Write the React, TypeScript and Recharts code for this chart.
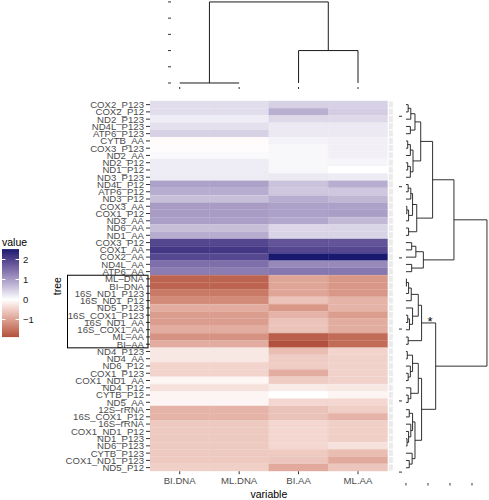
import React from 'react';
import { BarChart, Bar, XAxis, YAxis, Cell, ComposedChart, ReferenceLine, Scatter } from 'recharts';

const FONT = '"Liberation Sans", Arial, Helvetica, sans-serif';

// ---------------- data ----------------
const rowLabels = [
  'COX2_P123', 'COX2_P12', 'ND2_P123', 'ND4L_P123', 'ATP6_P123', 'CYTB_AA', 'COX3_P123', 'ND2_AA',
  'ND2_P12', 'ND1_P12', 'ND3_P123', 'ND4L_P12', 'ATP6_P12', 'ND3_P12', 'COX3_AA', 'COX1_P12',
  'ND3_AA', 'ND6_AA', 'ND1_AA', 'COX3_P12', 'COX1_AA', 'COX2_AA', 'ND4L_AA', 'ATP6_AA',
  'ML–DNA', 'BI–DNA', '16S_ND1_P123', '16S_ND1_P12', 'ND5_P123', '16S_COX1_P123', '16S_ND1_AA',
  '16S_COX1_AA', 'ML–AA', 'BI–AA', 'ND4_P123', 'ND4_AA', 'ND6_P12', 'COX1_P123', 'COX1_ND1_AA',
  'ND4_P12', 'CYTB_P12', 'ND5_AA', '12S–rRNA', '16S_COX1_P12', '16S–rRNA', 'COX1_ND1_P12',
  'ND1_P123', 'ND6_P123', 'CYTB_P123', 'COX1_ND1_P123', 'ND5_P12',
];

const colLabels = ['BI.DNA', 'ML.DNA', 'BI.AA', 'ML.AA'];

const valuesBIDNA = [
  0.33, 0.33, 0.19, 0.3, 0.45, -0.04, -0.03, 0.06, 0.19, 0.19, 0.2,
  0.95, 0.82, 0.64, 1.0, 1.0, 0.97, 0.64, 0.82, 1.96, 2.14, 1.95, 1.49, 1.34,
  -1.67, -1.67, -1.43, -1.25, -0.87, -1.04, -1.04, -0.87, -1.15, -0.87,
  -0.24, -0.24, -0.45, -0.45, -0.09, -0.31, -0.1, -0.1, -0.8, -0.8, -0.57, -0.57, -0.57, -0.57, -0.57, -0.57, -0.5,
];
const valuesMLDNA = [
  0.33, 0.33, 0.19, 0.3, 0.45, -0.04, -0.03, 0.06, 0.19, 0.19, 0.2,
  0.95, 0.82, 0.64, 1.0, 1.0, 0.97, 0.64, 0.82, 1.96, 2.14, 1.95, 1.49, 1.34,
  -1.67, -1.67, -1.43, -1.25, -0.87, -1.04, -1.04, -0.87, -1.15, -0.87,
  -0.24, -0.24, -0.45, -0.45, -0.09, -0.31, -0.1, -0.1, -0.8, -0.8, -0.57, -0.57, -0.57, -0.57, -0.57, -0.57, -0.5,
];
const valuesBIAA = [
  0.45, 0.8, 0.38, 0.22, 0.22, 0.12, 0.08, 0.08, 0.08, 0.08, 0.22,
  0.6, 0.55, 0.82, 0.95, 0.95, 0.88, 0.4, 0.42, 1.8, 1.96, 2.52, 1.2, 1.4,
  -0.94, -0.94, -0.94, -0.63, -1.11, -0.8, -0.63, -0.63, -1.72, -1.88,
  -0.7, -0.52, -0.52, -0.87, -0.52, -0.21, 0.0, -0.42, -0.64, -0.64, -0.42, -0.42, -0.42, -0.42, -0.56, -0.6, -0.9,
];
const valuesMLAA = [
  0.45, 0.5, 0.38, 0.22, 0.22, 0.15, 0.15, 0.15, 0.1, 0.0, 0.2,
  0.82, 0.55, 0.72, 0.95, 0.98, 0.7, 0.42, 0.42, 1.8, 1.96, 2.52, 1.2, 1.4,
  -1.11, -1.11, -1.11, -0.8, -0.8, -1.04, -0.87, -0.87, -1.58, -1.58,
  -0.45, -0.47, -0.47, -0.47, -0.47, -0.24, -0.1, -0.42, -0.5, -0.8, -0.5, -0.5, -0.5, -0.31, -0.7, -0.9, -0.6,
];

type TreeNode = number | [TreeNode, TreeNode, number];

// row dendrogram: [left, right, merge height]
const rowTree: TreeNode = [
  [
    [
      [
        [[[0, 1, 0.1], 2, 0.22], [3, 4, 0.2], 0.41],
        [[[5, 6, 0.08], 7, 0.2], [[8, 9, 0.08], 10, 0.2], 0.32],
        0.67,
      ],
      [
        [[[11, 12, 0.1], 13, 0.22], [[14, 15, 0.04], 16, 0.12], 0.3],
        [17, 18, 0.12],
        0.49,
      ],
      1.21,
    ],
    [[[19, 20, 0.26], 21, 0.45], [22, 23, 0.26], 0.79],
    2.18,
  ],
  [
    [
      [[[[24, 25, 0.02], 26, 0.12], 27, 0.24], [28, [[29, 30, 0.08], 31, 0.16], 0.3], 0.56],
      [32, 33, 0.1],
      0.71,
    ],
    [
      [[[34, 35, 0.06], [36, [37, 38, 0.1], 0.2], 0.3], [39, [40, 41, 0.1], 0.22], 0.56],
      [[[42, 43, 0.15], [44, [45, [46, 47, 0.05], 0.12], 0.22], 0.3], [48, [49, 50, 0.15], 0.28], 0.41],
      0.71,
    ],
    1.35,
  ],
  3.68,
];

// column dendrogram
const colTree: TreeNode = [[0, 1, 0], [2, 3, 2], 5];

const rowTreeTicks = [1.6, 11.3, 21.1, 30.9, 40.8, 50.6];
const rowHeightTicks = [0, 1, 2, 3];
const colHeightTicks = [0, 1, 2, 3, 4, 5];
const legendBreaks = [2, 1, 0, -1];

// ---------------- colour scale (Lab, like ggplot gradient2) ----------------
const lin = (c: number) => {
  const s = c / 255;
  return s <= 0.04045 ? s / 12.92 : Math.pow((s + 0.055) / 1.055, 2.4);
};
const unlin = (v: number) => {
  const s = v <= 0.0031308 ? 12.92 * v : 1.055 * Math.pow(v, 1 / 2.4) - 0.055;
  return Math.round(Math.min(1, Math.max(0, s)) * 255);
};
const Xn = 0.95047, Zn = 1.08883;
const fl = (t: number) => (t > 216 / 24389 ? Math.cbrt(t) : ((24389 / 27) * t + 16) / 116);
const finv = (t: number) => (t * t * t > 216 / 24389 ? t * t * t : (116 * t - 16) / (24389 / 27));
function toLab(rgb: number[]) {
  const R = lin(rgb[0]), G = lin(rgb[1]), B = lin(rgb[2]);
  const X = 0.4124564 * R + 0.3575761 * G + 0.1804375 * B;
  const Y = 0.2126729 * R + 0.7151522 * G + 0.072175 * B;
  const Z = 0.0193339 * R + 0.119192 * G + 0.9503041 * B;
  const fx = fl(X / Xn), fy = fl(Y), fz = fl(Z / Zn);
  return [116 * fy - 16, 500 * (fx - fy), 200 * (fy - fz)];
}
function fromLab(lab: number[]) {
  const fy = (lab[0] + 16) / 116;
  const fx = fy + lab[1] / 500;
  const fz = fy - lab[2] / 200;
  const X = Xn * finv(fx), Y = finv(fy), Z = Zn * finv(fz);
  const R = 3.2404542 * X - 1.5371385 * Y - 0.4985314 * Z;
  const G = -0.969266 * X + 1.8760108 * Y + 0.041556 * Z;
  const B = 0.0556434 * X - 0.2040259 * Y + 1.0572252 * Z;
  return '#' + [R, G, B].map((v) => unlin(v).toString(16).padStart(2, '0')).join('');
}
const LAB_MID = toLab([255, 255, 255]);
const LAB_LOW = toLab([139, 0, 0]); // darkred
const LAB_HIGH = toLab([25, 25, 112]); // midnightblue

const allValues = [...valuesBIDNA, ...valuesMLDNA, ...valuesBIAA, ...valuesMLAA];
const vMax = Math.max(...allValues);
const vMin = Math.min(...allValues);
const maxAbs = Math.max(Math.abs(vMax), Math.abs(vMin));

function colorFor(v: number) {
  const t = Math.min(1, Math.abs(v) / maxAbs);
  const end = v >= 0 ? LAB_HIGH : LAB_LOW;
  return fromLab(LAB_MID.map((m, k) => m + (end[k] - m) * t));
}

// ---------------- dendrogram layout ----------------
type Seg = { p1: number; h1: number; p2: number; h2: number };
function layoutTree(node: TreeNode, segs: Seg[], off: number): { pos: number; h: number } {
  if (typeof node === 'number') return { pos: node + off, h: 0 };
  const L = layoutTree(node[0], segs, off);
  const R = layoutTree(node[1], segs, off);
  const h = node[2];
  segs.push({ p1: L.pos, h1: h, p2: R.pos, h2: h });
  segs.push({ p1: L.pos, h1: L.h, p2: L.pos, h2: h });
  segs.push({ p1: R.pos, h1: R.h, p2: R.pos, h2: h });
  return { pos: (L.pos + R.pos) / 2, h };
}
const rowSegs: Seg[] = [];
layoutTree(rowTree, rowSegs, 0);
const colSegs: Seg[] = [];
layoutTree(colTree, colSegs, 0.5);

// starred clade: first child of the lower (red) cluster
const redCluster = (rowTree as any)[1];
const starClade = redCluster[0];
const starPos = layoutTree(starClade, [], 0).pos;
const starData = [{ h: (starClade[2] + redCluster[2]) / 2, r: starPos }];

// ---------------- layout constants ----------------
const PLOT_TOP = 101;
const ROW_H = 7.26;
const N = rowLabels.length;
const PLOT_BOTTOM = PLOT_TOP + N * ROW_H;
const HEAT_LEFT = 150;
const COL_W = 59.43;
const GAP = 0.01;
const STRIP = 0.084;
const X_MAX = 4 + GAP + STRIP;
const HEAT_RIGHT = HEAT_LEFT + X_MAX * COL_W;

const heatData = rowLabels.map((name, i) => ({ name, c0: 1, c1: 1, c2: 1, c3: 1, gap: GAP, strip: STRIP, idx: i }));
const columns = [valuesBIDNA, valuesMLDNA, valuesBIAA, valuesMLAA];

const tickStyle = { fontSize: 9.6, fill: '#4D4D4D' };
const LINE = '#1a1a1a';

function Heatmap() {
  const W = 400, H = 500, xAxisH = 20;
  return (
    <BarChart
      layout="vertical"
      width={W}
      height={H}
      data={heatData}
      margin={{ top: PLOT_TOP, right: W - HEAT_RIGHT, bottom: H - PLOT_BOTTOM - xAxisH, left: 0 }}
      barCategoryGap={0}
      barGap={0}
    >
      <XAxis
        type="number"
        domain={[0, X_MAX]}
        allowDataOverflow
        ticks={[0.5, 1.5, 2.5, 3.5]}
        interval={0}
        tickFormatter={(v: number) => colLabels[Math.round(v - 0.5)]}
        axisLine={false}
        tickSize={3}
        tickMargin={3}
        height={xAxisH}
        tick={tickStyle}
        tickLine={{ stroke: '#333' }}
      />
      <YAxis
        type="category"
        dataKey="name"
        width={HEAT_LEFT}
        interval={0}
        axisLine={false}
        tickSize={4}
        tickMargin={2}
        tick={tickStyle}
        tickLine={{ stroke: '#333' }}
      />
      {columns.map((vals, j) => (
        <Bar key={j} dataKey={`c${j}`} stackId="h" isAnimationActive={false}>
          {vals.map((v, i) => (
            <Cell key={i} fill={colorFor(v)} stroke={colorFor(v)} strokeWidth={0.4} />
          ))}
        </Bar>
      ))}
      <Bar dataKey="gap" stackId="h" fill="none" isAnimationActive={false} />
      <Bar dataKey="strip" stackId="h" fill="#EBEBEB" stroke="#ffffff" strokeWidth={0.9} isAnimationActive={false} />
    </BarChart>
  );
}

function TopDendrogram() {
  const W = 400, H = 100;
  const left = 171, right = 367, bottom = 87;
  const uMin = (left - HEAT_LEFT) / COL_W;
  const uMax = (right - HEAT_LEFT) / COL_W;
  const leaves = colLabels.map((c, i) => ({ u: i + 0.5, h: 0 }));
  return (
    <ComposedChart width={W} height={H} data={leaves} margin={{ top: 0, left: left - 10, right: W - right, bottom: H - bottom - 5 }}>
      <XAxis
        type="number"
        dataKey="u"
        domain={[uMin, uMax]}
        allowDataOverflow
        ticks={[0.5, 1.5, 2.5, 3.5]}
        interval={0}
        tickFormatter={() => ''}
        axisLine={false}
        tickSize={2}
        height={5}
        tickLine={{ stroke: '#333' }}
      />
      <YAxis
        type="number"
        domain={[-0.247, 5.12]}
        allowDataOverflow
        ticks={colHeightTicks}
        interval={0}
        tickFormatter={() => ''}
        axisLine={false}
        tickSize={3}
        width={10}
        tickLine={{ stroke: '#333' }}
      />
      <Scatter dataKey="h" isAnimationActive={false} shape={() => <g />} />
      {colSegs.map((s, i) => (
        <ReferenceLine
          key={i}
          segment={[{ x: s.p1, y: s.h1 }, { x: s.p2, y: s.h2 }]}
          stroke={LINE}
          strokeWidth={1}
          ifOverflow="visible"
        />
      ))}
    </ComposedChart>
  );
}

function RightDendrogram() {
  const left = 380, W = 109, H = 500;
  const plotLeft = 402, plotBottom = 483, plotTop = 100.3;
  const rMin = -0.6, rMax = 52.1;
  return (
    <ComposedChart
      width={W}
      height={H}
      data={starData}
      margin={{ top: plotTop, left: plotLeft - left - 10, right: 0.5, bottom: H - plotBottom - 8 }}
    >
      <XAxis
        type="number"
        dataKey="h"
        domain={[-0.18, 3.75]}
        allowDataOverflow
        ticks={rowHeightTicks}
        interval={0}
        tickFormatter={() => ''}
        axisLine={false}
        tickSize={2.5}
        height={8}
        tickLine={{ stroke: '#333' }}
      />
      <YAxis
        type="number"
        reversed
        domain={[rMin, rMax]}
        allowDataOverflow
        ticks={rowTreeTicks}
        interval={0}
        tickFormatter={() => ''}
        axisLine={false}
        tickSize={3}
        width={10}
        tickLine={{ stroke: '#333' }}
      />
      {rowSegs.map((s, i) => (
        <ReferenceLine
          key={i}
          segment={[{ x: s.h1, y: s.p1 }, { x: s.h2, y: s.p2 }]}
          stroke={LINE}
          strokeWidth={0.9}
          ifOverflow="visible"
        />
      ))}
      <Scatter
        dataKey="r"
        isAnimationActive={false}
        shape={(p: any) => (
          <text x={p.cx + 1.5} y={p.cy + 3} textAnchor="middle" fontSize={13} fill="#000">
            *
          </text>
        )}
      />
    </ComposedChart>
  );
}

function Overlay() {
  const barX = 2, barW = 17;
  const yOf = (v: number) => 299.5 - 20 * v;
  const barTop = yOf(vMax);
  const barBottom = yOf(vMin);
  const stops = Array.from({ length: 41 }, (_, k) => k / 40);
  const boxTop = PLOT_TOP + ROW_H * 24;
  const boxBottom = PLOT_TOP + ROW_H * 34;
  const midY = (PLOT_TOP + PLOT_BOTTOM) / 2;
  const midX = (HEAT_LEFT + HEAT_LEFT + 4 * COL_W) / 2;
  return (
    <svg width={489} height={500} style={{ position: 'absolute', left: 0, top: 0, pointerEvents: 'none' }}>
      <defs>
        <linearGradient id="cbar" x1="0" y1="0" x2="0" y2="1">
          {stops.map((f, k) => (
            <stop key={k} offset={f} stopColor={colorFor(vMax - f * (vMax - vMin))} />
          ))}
        </linearGradient>
      </defs>
      <text x={2} y={245.5} fontSize={10.5} fill="#000">value</text>
      <rect x={barX} y={barTop} width={barW} height={barBottom - barTop} fill="url(#cbar)" />
      {legendBreaks.map((b) => (
        <g key={b}>
          <line x1={barX} x2={barX + barW / 5} y1={yOf(b)} y2={yOf(b)} stroke="#fff" strokeWidth={1} />
          <line x1={barX + barW - barW / 5} x2={barX + barW} y1={yOf(b)} y2={yOf(b)} stroke="#fff" strokeWidth={1} />
          <text x={23} y={yOf(b)} dy="0.35em" fontSize={9.5} fill="#1a1a1a">
            {b < 0 ? '\u2212' + Math.abs(b) : String(b)}
          </text>
        </g>
      ))}
      <text x={61.5} y={midY} fontSize={10.5} fill="#000" textAnchor="middle" transform={`rotate(-90, 61.5, ${midY})`}>
        tree
      </text>
      <text x={midX} y={498.3} fontSize={10.5} fill="#000" textAnchor="middle">variable</text>
      <rect x={67.5} y={boxTop} width={148 - 67.5} height={boxBottom - boxTop} fill="none" stroke="#000" strokeWidth={1} />
    </svg>
  );
}

export default function App() {
  return (
    <div style={{ position: 'absolute', left: 0, top: 0, width: 489, height: 500, background: '#fff', fontFamily: FONT, overflow: 'hidden' }}>
      <div style={{ position: 'absolute', left: 0, top: 0 }}>
        <Heatmap />
      </div>
      <div style={{ position: 'absolute', left: 0, top: 0 }}>
        <TopDendrogram />
      </div>
      <div style={{ position: 'absolute', left: 380, top: 0 }}>
        <RightDendrogram />
      </div>
      <Overlay />
    </div>
  );
}
